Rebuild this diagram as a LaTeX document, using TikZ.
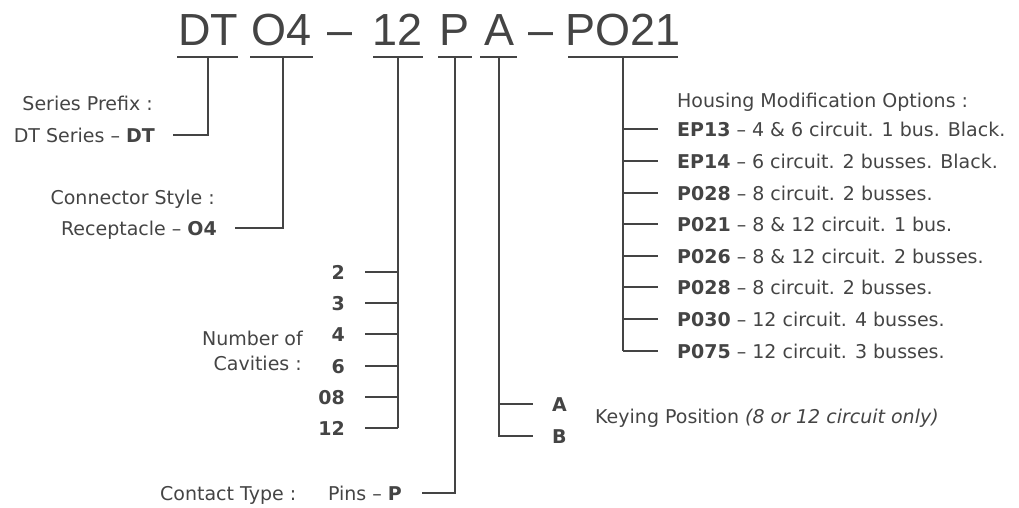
\documentclass[tikz,border=0pt]{standalone}
\usepackage{fontspec}
\setmainfont{DejaVu Sans}
\newfontfamily\titlefont{Liberation Sans}
\definecolor{ink}{HTML}{444444}
\begin{document}
\begin{tikzpicture}[x=1pt,y=-1pt,
  lbl/.style={inner sep=0pt, text=ink, font=\fontsize{19}{23}\selectfont},
  lblr/.style={lbl, anchor=base east},
  lbll/.style={lbl, anchor=base west},
  ttl/.style={inner sep=0pt, text=ink, anchor=base, font=\titlefont\fontsize{45}{50}\selectfont},
  wire/.style={draw=ink, line width=2.6pt, line join=miter}]
\useasboundingbox (0,0) rectangle (1019,507);

% title tokens
\node[ttl] (tDT) at (208,45) {DT};
\node[ttl] (tO4) at (282,45) {O4};
\node[ttl] (td1) at (340,45) {–};
\node[ttl] (t12) at (398,45) {12};
\node[ttl] (tP)  at (455,45) {P};
\node[ttl] (tA)  at (499,45) {A};
\node[ttl] (td2) at (541,45) {–};
\node[ttl] (tPO) at (623,45) {PO21};

% underline end points and junctions
\coordinate (uDTl) at (177,57); \coordinate (uDTr) at (238,57); \coordinate (jDT) at (208,57);
\coordinate (uO4l) at (250,57); \coordinate (uO4r) at (313,57); \coordinate (jO4) at (283,57);
\coordinate (u12l) at (373,57); \coordinate (u12r) at (423,57); \coordinate (j12) at (398,57);
\coordinate (uPl)  at (438,57); \coordinate (uPr)  at (472,57); \coordinate (jP)  at (455,57);
\coordinate (uAl)  at (480,57); \coordinate (uAr)  at (517,57); \coordinate (jA)  at (499,57);
\coordinate (uPOl) at (568,57); \coordinate (uPOr) at (678,57); \coordinate (jPO) at (623,57);
\foreach \a/\b in {uDTl/uDTr,uO4l/uO4r,u12l/u12r,uPl/uPr,uAl/uAr,uPOl/uPOr}
  \draw[wire] (\a) -- (\b);

% Series prefix
\node[lblr] (sp1) at (153,110) {Series Prefix :};
\node[lblr] (sp2) at (155,142) {DT Series – \textbf{DT}};
\coordinate (eDT) at (173,135);
\draw[wire] (jDT) |- (eDT);

% Connector style
\node[lblr] (cs1) at (215,204) {Connector Style :};
\node[lblr] (cs2) at (217,235) {Receptacle – \textbf{O4}};
\coordinate (eO4) at (235,228);
\draw[wire] (jO4) |- (eO4);

% Number of cavities
\node[lblr] (nc1) at (303,345) {Number of};
\node[lblr] (nc2) at (302,370) {Cavities :};
\coordinate (b12) at (398,428);
\draw[wire] (j12) -- (b12);
\foreach \v/\y [count=\i] in {2/272,3/303,4/334,6/366,08/397,12/428}{
  \node[lblr] (cv\i) at (345,\y+7) {\textbf{\v}};
  \coordinate (cj\i) at (398,\y);
  \coordinate (ce\i) at (365,\y);
  \draw[wire] (cj\i) -- (ce\i);
}

% Contact type
\node[lbll] (ct1) at (160,500) {Contact Type :};
\node[lblr] (ct2) at (402,500) {Pins – \textbf{P}};
\coordinate (eP) at (422,493);
\draw[wire] (jP) |- (eP);

% Keying position
\coordinate (kA) at (499,404); \coordinate (kAe) at (533,404);
\coordinate (kB) at (499,436); \coordinate (kBe) at (533,436);
\draw[wire] (jA) |- (kBe);
\draw[wire] (kA) -- (kAe);
\node[lbll] (lA) at (552,411) {\textbf{A}};
\node[lbll] (lB) at (552,443) {\textbf{B}};
\node[lbll] (kp) at (595,423) {Keying Position \textit{(8 or 12 circuit only)}};

% Housing modification options
\node[lbll] (hm) at (677,107) {Housing Modification Options :};
\coordinate (hb) at (623,351);
\draw[wire] (jPO) -- (hb);
\foreach \c/\t/\y [count=\i] in {
  EP13/{4 \& 6 circuit. 1 bus. Black.}/129,
  EP14/{6 circuit. 2 busses. Black.}/161,
  P028/{8 circuit. 2 busses.}/193,
  P021/{8 \& 12 circuit. 1 bus.}/224,
  P026/{8 \& 12 circuit. 2 busses.}/256,
  P028/{8 circuit. 2 busses.}/287,
  P030/{12 circuit. 4 busses.}/319,
  P075/{12 circuit. 3 busses.}/351}{
  \coordinate (hj\i) at (623,\y);
  \coordinate (he\i) at (658,\y);
  \draw[wire] (hj\i) -- (he\i);
  \node[lbll] (ho\i) at (677,\y+7) {\textbf{\c} – \t};
}
\end{tikzpicture}
\end{document}
